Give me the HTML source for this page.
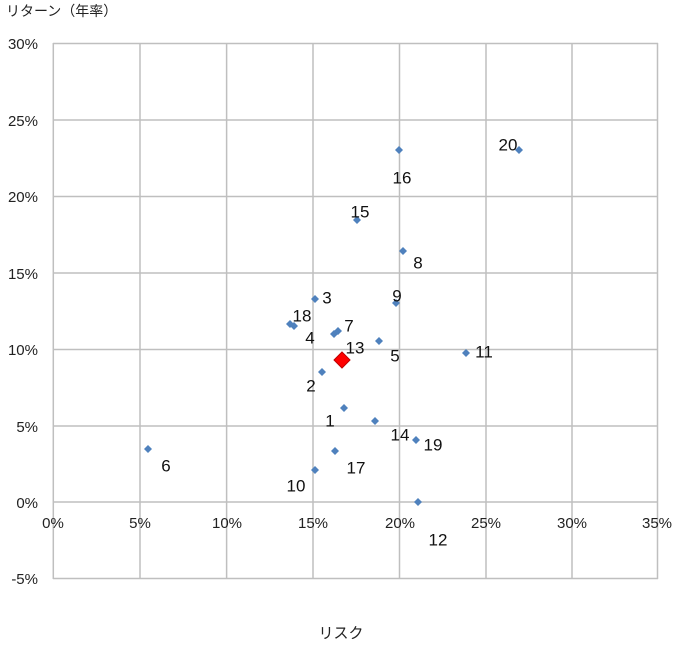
<!DOCTYPE html>
<html><head><meta charset="utf-8"><style>
html,body{margin:0;padding:0;background:#fff;}
svg text{font-family:"Liberation Sans","Noto Sans CJK JP",sans-serif;}
</style></head><body>
<svg width="685" height="646" xmlns="http://www.w3.org/2000/svg">
<rect width="685" height="646" fill="#fff"/>
<g stroke="#bfbfbf" stroke-width="1.5">
<line x1="53" y1="43.5" x2="658" y2="43.5"/>
<line x1="53" y1="120" x2="658" y2="120"/>
<line x1="53" y1="196.5" x2="658" y2="196.5"/>
<line x1="53" y1="273" x2="658" y2="273"/>
<line x1="53" y1="349.5" x2="658" y2="349.5"/>
<line x1="53" y1="426" x2="658" y2="426"/>
<line x1="53" y1="502" x2="658" y2="502"/>
<line x1="53" y1="578.5" x2="658" y2="578.5"/>
<line x1="53.3" y1="43" x2="53.3" y2="579"/>
<line x1="140" y1="43" x2="140" y2="579"/>
<line x1="226.6" y1="43" x2="226.6" y2="579"/>
<line x1="313" y1="43" x2="313" y2="579"/>
<line x1="399.5" y1="43" x2="399.5" y2="579"/>
<line x1="486" y1="43" x2="486" y2="579"/>
<line x1="572" y1="43" x2="572" y2="579"/>
<line x1="657.5" y1="43" x2="657.5" y2="579"/>
</g>
<g font-size="15" fill="#222" text-anchor="end">
<text x="38" y="49">30%</text><text x="38" y="126">25%</text><text x="38" y="202">20%</text>
<text x="38" y="279">15%</text><text x="38" y="355">10%</text><text x="38" y="432">5%</text>
<text x="38" y="508">0%</text><text x="38" y="584">-5%</text>
</g>
<g font-size="15" fill="#222" text-anchor="middle">
<text x="53" y="528">0%</text><text x="140" y="528">5%</text><text x="227" y="528">10%</text>
<text x="313" y="528">15%</text><text x="400" y="528">20%</text><text x="486" y="528">25%</text>
<text x="572" y="528">30%</text><text x="657" y="528">35%</text>
</g>
<text x="6" y="16" font-size="14" fill="#222">リターン（年率）</text>
<text x="341" y="638" font-size="15" fill="#222" text-anchor="middle">リスク</text>
<g fill="#4f81bd">
<path id="d" d="M0,-4 L4,0 L0,4 L-4,0Z" transform="translate(315,299)"/>
<path d="M0,-4 L4,0 L0,4 L-4,0Z" transform="translate(396,303)"/>
<path d="M0,-4 L4,0 L0,4 L-4,0Z" transform="translate(290,324)"/>
<path d="M0,-4 L4,0 L0,4 L-4,0Z" transform="translate(294,326)"/>
<path d="M0,-4 L4,0 L0,4 L-4,0Z" transform="translate(334,334)"/>
<path d="M0,-4 L4,0 L0,4 L-4,0Z" transform="translate(338,331)"/>
<path d="M0,-4 L4,0 L0,4 L-4,0Z" transform="translate(379,341)"/>
<path d="M0,-4 L4,0 L0,4 L-4,0Z" transform="translate(466,353)"/>
<path d="M0,-4 L4,0 L0,4 L-4,0Z" transform="translate(322,372)"/>
<path d="M0,-4 L4,0 L0,4 L-4,0Z" transform="translate(344,408)"/>
<path d="M0,-4 L4,0 L0,4 L-4,0Z" transform="translate(375,421)"/>
<path d="M0,-4 L4,0 L0,4 L-4,0Z" transform="translate(416,440)"/>
<path d="M0,-4 L4,0 L0,4 L-4,0Z" transform="translate(335,451)"/>
<path d="M0,-4 L4,0 L0,4 L-4,0Z" transform="translate(315,470)"/>
<path d="M0,-4 L4,0 L0,4 L-4,0Z" transform="translate(418,502)"/>
<path d="M0,-4 L4,0 L0,4 L-4,0Z" transform="translate(399,150)"/>
<path d="M0,-4 L4,0 L0,4 L-4,0Z" transform="translate(519,150)"/>
<path d="M0,-4 L4,0 L0,4 L-4,0Z" transform="translate(357,220)"/>
<path d="M0,-4 L4,0 L0,4 L-4,0Z" transform="translate(403,251)"/>
<path d="M0,-4 L4,0 L0,4 L-4,0Z" transform="translate(148,449)"/>
</g>
<path d="M0,-8 L8,0 L0,8 L-8,0Z" transform="translate(342,360)" fill="#ff0000" stroke="#c00000" stroke-width="1"/>
<g font-size="17" fill="#111" text-anchor="middle" dominant-baseline="central">
<text x="327" y="298">3</text><text x="397" y="296">9</text><text x="302" y="316">18</text>
<text x="349" y="326">7</text><text x="310" y="338">4</text><text x="355" y="348">13</text>
<text x="395" y="356">5</text><text x="484" y="352">11</text><text x="311" y="386">2</text>
<text x="330" y="421">1</text><text x="400" y="435">14</text><text x="433" y="445">19</text>
<text x="356" y="468">17</text><text x="296" y="486">10</text><text x="438" y="540">12</text>
<text x="166" y="466">6</text><text x="402" y="178">16</text><text x="508" y="145">20</text>
<text x="360" y="212">15</text><text x="418" y="263">8</text>
</g>
</svg>
</body></html>
